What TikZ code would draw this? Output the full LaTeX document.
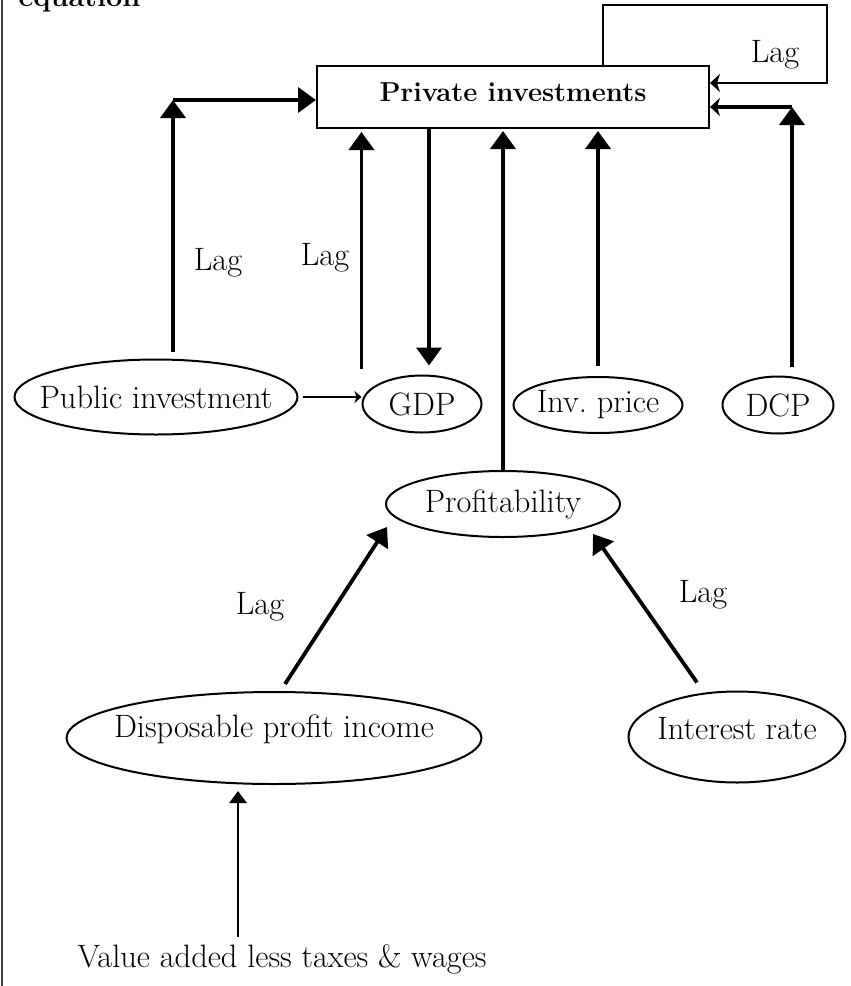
\documentclass[tikz,border=0pt]{standalone}
\usetikzlibrary{arrows.meta,shapes.geometric,calc}
\begin{document}
\begin{tikzpicture}[x=1bp,y=-1bp,
    font=\fontsize{32.5}{38}\selectfont,
    var/.style={draw, line width=2bp, ellipse, inner sep=0pt,
      execute at begin node={\hbox to 0pt\bgroup\hss},
      execute at end node={\hss\egroup}},
    flow/.style={line width=3.8bp, -{Triangle[width=25bp,length=18bp]}},
    feed/.style={line width=3.3bp, -{Stealth[width=18bp,length=10bp,inset=3bp]}},
    lagline/.style={line width=2.7bp, -{Stealth[width=18bp,length=10bp,inset=3bp]}},
    thinflow/.style={line width=2.3bp, -{Stealth[width=12bp,length=7bp,inset=2bp]}},
    valflow/.style={line width=2.7bp, -{Triangle[width=17bp,length=12bp]}}]
    \useasboundingbox (0,0) rectangle (851,986);
    \draw[line width=1.2bp, black!75] (2,0) -- (2,986);
    \node[anchor=base west, font=\bfseries\fontsize{29}{34}\selectfont] (eqn) at (15,6) {equation};

    % blocks
    \node[draw, line width=2bp, minimum width=392bp, minimum height=62bp, inner sep=0pt,
      font=\bfseries\fontsize{27.5}{32}\selectfont, text depth=10bp] (inv) at (513,97) {Private investments};
    \node[var, minimum width=283bp, minimum height=75bp] (pub) at (156,397) {Public investment};
    \node[var, minimum width=119bp, minimum height=57bp] (gdp) at (422,404) {GDP};
    \node[var, minimum width=169bp, minimum height=56bp] (invp) at (598,405) {Inv.\ price};
    \node[var, minimum width=111bp, minimum height=57bp] (dcp) at (778,405) {DCP};
    \node[var, minimum width=234bp, minimum height=66bp] (prof) at (503,504) {Profitability};
    \node[var, minimum width=415bp, minimum height=92bp, text depth=24bp] (disp) at (274,738) {Disposable profit income};
    \node[var, minimum width=217bp, minimum height=91bp, text depth=18bp] (int) at (737,737) {Interest rate};
    \node[anchor=base] (value) at (282,967) {Value added less taxes \& wages};

    \coordinate (pubc) at (173,100);
    \coordinate (dcpc) at (792,107);
    \coordinate (lagl) at (603,5);
    \coordinate (lagr) at (827,83);
    \coordinate (vsrc) at (238,937);

    % arrows into private investments
    \draw[flow, shorten <=7bp] (pub.north -| pubc) -- (pubc);
    \draw[flow] (pubc) -- (pubc -| inv.west);
    \draw[flow, shorten <=35bp, shorten >=3bp] (gdp.west) -- (gdp.west |- inv.south);
    \draw[flow, shorten >=9bp] ($(inv.south -| gdp.north)+(7,0)$) -- ($(gdp.north)+(7,0)$);
    \draw[flow, shorten <=10bp, shorten >=2bp] (invp.north) -- (invp.north |- inv.south);
    \draw[flow, shorten <=9bp] (dcp.north -| dcpc) -- (dcpc);
    \draw[feed] (dcpc) -- (dcpc -| inv.east);
    \draw[lagline] (lagl |- inv.north) -- (lagl) -| (lagr) -- (lagr -| inv.east);
    \draw[flow, shorten >=2bp] (prof.north) -- (prof.north |- inv.south);
    \draw[thinflow, shorten <=4bp] (pub.east) -- (pub.east -| gdp.west);

    % arrows into profitability
    \draw[flow] ($(disp.north)+(11,-7)$) -- ($(prof.west)+(2,23)$);
    \draw[flow] ($(int.north)+(-40,-8)$) -- ($(prof.south)+(90,-4)$);
    \draw[valflow, shorten >=6bp] (vsrc) -- (vsrc |- disp.south);

    % lags
    \node (lag1) at (775,55) {Lag};
    \node (lag2) at (218,263) {Lag};
    \node (lag3) at (325,258) {Lag};
    \node (lag4) at (260,607) {Lag};
    \node (lag5) at (703,595) {Lag};
\end{tikzpicture}
\end{document}
